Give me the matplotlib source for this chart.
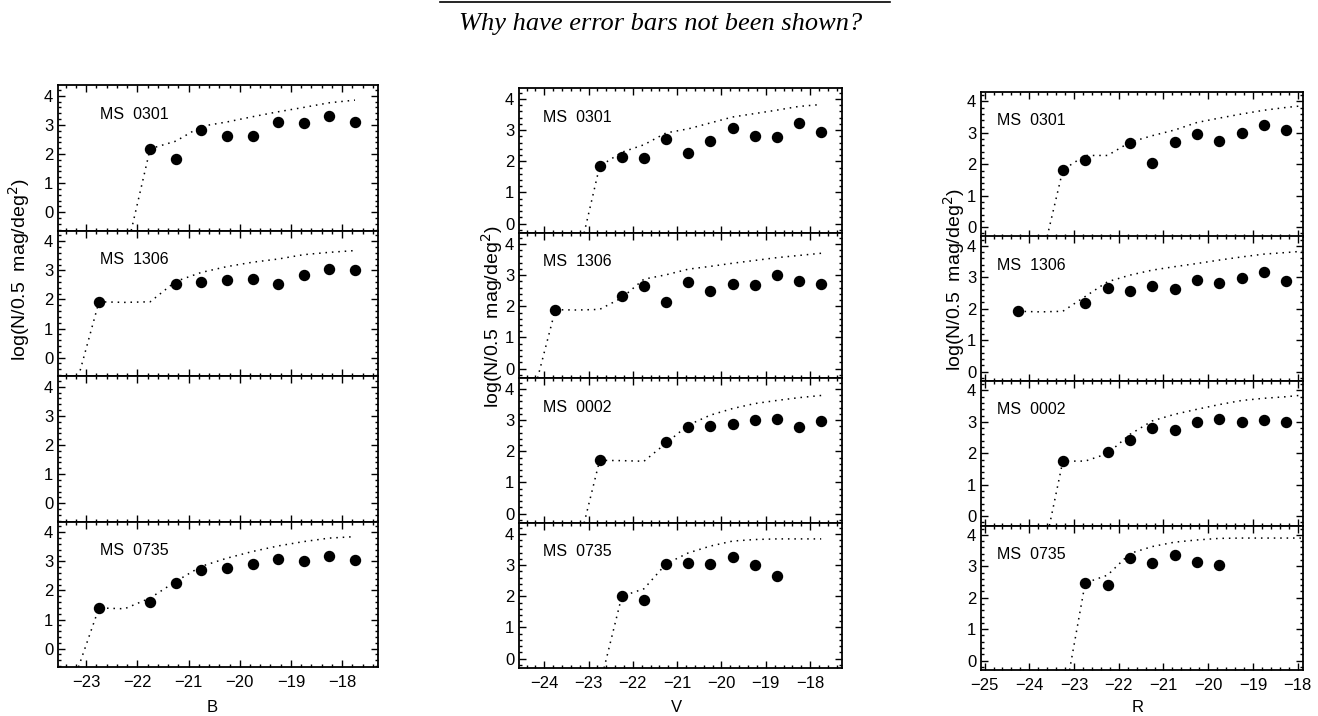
import matplotlib
matplotlib.use("Agg")
import matplotlib.pyplot as plt
from matplotlib.ticker import MultipleLocator
from matplotlib.lines import Line2D

plt.rcParams['font.family'] = ['Liberation Sans', 'DejaVu Sans']

# ---- B band ----
b_0301_x = [-21.75, -21.25, -20.75, -20.25, -19.75, -19.25, -18.75, -18.25, -17.75]
b_0301_y = [2.18, 1.84, 2.82, 2.63, 2.61, 3.09, 3.05, 3.30, 3.09]
b_0301_mx = [-22.12, -21.75, -21.25, -20.75, -20.25, -19.75, -19.25, -18.75, -18.25, -17.75]
b_0301_my = [-0.63, 2.18, 2.44, 2.95, 3.10, 3.28, 3.45, 3.60, 3.76, 3.85]

b_1306_x = [-22.75, -21.25, -20.75, -20.25, -19.75, -19.25, -18.75, -18.25, -17.75]
b_1306_y = [1.92, 2.53, 2.60, 2.68, 2.72, 2.54, 2.84, 3.03, 3.02]
b_1306_mx = [-23.15, -22.75, -22.25, -21.75, -21.25, -20.75, -20.25, -19.75, -19.25, -18.75, -18.25, -17.75]
b_1306_my = [-0.65, 1.92, 1.90, 1.92, 2.62, 2.93, 3.13, 3.28, 3.39, 3.54, 3.62, 3.68]

b_0735_x = [-22.75, -21.75, -21.25, -20.75, -20.25, -19.75, -19.25, -18.75, -18.25, -17.75]
b_0735_y = [1.40, 1.61, 2.26, 2.69, 2.77, 2.92, 3.08, 3.02, 3.19, 3.05]
b_0735_mx = [-23.15, -22.75, -22.25, -21.75, -21.25, -20.75, -20.25, -19.75, -19.25, -18.75, -18.25, -17.75]
b_0735_my = [-0.63, 1.40, 1.37, 1.74, 2.31, 2.83, 3.11, 3.34, 3.53, 3.68, 3.80, 3.85]

# ---- V band ----
v_0301_x = [-22.75, -22.25, -21.75, -21.25, -20.75, -20.25, -19.75, -19.25, -18.75, -18.25, -17.75]
v_0301_y = [1.84, 2.13, 2.11, 2.70, 2.25, 2.64, 3.07, 2.80, 2.78, 3.23, 2.94]
v_0301_mx = [-23.1, -22.75, -22.25, -21.75, -21.25, -20.75, -20.25, -19.75, -19.25, -18.75, -18.25, -17.75]
v_0301_my = [-0.3, 1.84, 2.29, 2.53, 2.91, 3.04, 3.23, 3.42, 3.53, 3.64, 3.76, 3.82]

v_1306_x = [-23.75, -22.25, -21.75, -21.25, -20.75, -20.25, -19.75, -19.25, -18.75, -18.25, -17.75]
v_1306_y = [1.89, 2.34, 2.66, 2.13, 2.77, 2.50, 2.72, 2.67, 3.01, 2.80, 2.71]
v_1306_mx = [-24.15, -23.75, -23.25, -22.75, -22.25, -21.75, -21.25, -20.75, -20.25, -19.75,
             -19.25, -18.75, -18.25, -17.75]
v_1306_my = [-0.3, 1.89, 1.88, 1.90, 2.27, 2.87, 3.01, 3.19, 3.28, 3.38, 3.47, 3.56, 3.63, 3.70]

v_0002_x = [-22.75, -21.25, -20.75, -20.25, -19.75, -19.25, -18.75, -18.25, -17.75]
v_0002_y = [1.71, 2.29, 2.77, 2.82, 2.89, 3.00, 3.05, 2.77, 2.98]
v_0002_mx = [-23.1, -22.75, -22.25, -21.75, -21.25, -20.75, -20.25, -19.75, -19.25, -18.75, -18.25, -17.75]
v_0002_my = [-0.3, 1.71, 1.70, 1.68, 2.26, 2.84, 3.16, 3.37, 3.53, 3.63, 3.72, 3.79]

v_0735_x = [-22.25, -21.75, -21.25, -20.75, -20.25, -19.75, -19.25, -18.75]
v_0735_y = [2.00, 1.87, 3.04, 3.07, 3.03, 3.26, 3.00, 2.65]
v_0735_mx = [-22.65, -22.25, -21.75, -21.25, -20.75, -20.25, -19.75, -19.25, -18.75, -18.25, -17.75]
v_0735_my = [-0.3, 2.00, 2.24, 3.04, 3.39, 3.61, 3.77, 3.82, 3.84, 3.84, 3.84]

# ---- R band ----
r_0301_x = [-23.25, -22.75, -21.75, -21.25, -20.75, -20.25, -19.75, -19.25, -18.75, -18.25]
r_0301_y = [1.82, 2.12, 2.67, 2.03, 2.70, 2.96, 2.73, 2.98, 3.26, 3.09]
r_0301_mx = [-23.6, -23.25, -22.75, -22.25, -21.75, -21.25, -20.75, -20.25, -19.75, -19.25,
             -18.75, -18.25, -17.9]
r_0301_my = [-0.3, 1.82, 2.28, 2.28, 2.70, 2.91, 3.09, 3.33, 3.47, 3.60, 3.72, 3.81, 3.86]

r_1306_x = [-24.25, -22.75, -22.25, -21.75, -21.25, -20.75, -20.25, -19.75, -19.25, -18.75, -18.25]
r_1306_y = [1.92, 2.18, 2.67, 2.55, 2.71, 2.62, 2.92, 2.81, 2.99, 3.18, 2.89]
r_1306_mx = [-24.25, -23.75, -23.25, -22.75, -22.25, -21.75, -21.25, -20.75, -20.25, -19.75,
             -19.25, -18.75, -18.25, -17.9]
r_1306_my = [1.92, 1.90, 1.92, 2.39, 2.86, 3.07, 3.23, 3.34, 3.44, 3.55, 3.65, 3.74, 3.79, 3.83]

r_0002_x = [-23.25, -22.25, -21.75, -21.25, -20.75, -20.25, -19.75, -19.25, -18.75, -18.25]
r_0002_y = [1.75, 2.04, 2.43, 2.80, 2.74, 3.00, 3.10, 3.00, 3.06, 2.98]
r_0002_mx = [-23.55, -23.25, -22.75, -22.25, -21.75, -21.25, -20.75, -20.25, -19.75, -19.25,
             -18.75, -18.25, -17.9]
r_0002_my = [-0.3, 1.75, 1.75, 1.99, 2.60, 3.03, 3.24, 3.40, 3.55, 3.68, 3.75, 3.80, 3.85]

r_0735_x = [-22.75, -22.25, -21.75, -21.25, -20.75, -20.25, -19.75]
r_0735_y = [2.47, 2.42, 3.27, 3.11, 3.36, 3.13, 3.04]
r_0735_mx = [-23.1, -22.75, -22.25, -21.75, -21.25, -20.75, -20.25, -19.75, -19.25, -18.75, -18.25, -17.9]
r_0735_my = [-0.3, 2.47, 2.72, 3.41, 3.63, 3.77, 3.84, 3.89, 3.90, 3.90, 3.90, 3.90]

# panel contents per column (None = empty panel)
b_panels = [("MS 0301", b_0301_x, b_0301_y, b_0301_mx, b_0301_my),
            ("MS 1306", b_1306_x, b_1306_y, b_1306_mx, b_1306_my),
            None,
            ("MS 0735", b_0735_x, b_0735_y, b_0735_mx, b_0735_my)]
v_panels = [("MS 0301", v_0301_x, v_0301_y, v_0301_mx, v_0301_my),
            ("MS 1306", v_1306_x, v_1306_y, v_1306_mx, v_1306_my),
            ("MS 0002", v_0002_x, v_0002_y, v_0002_mx, v_0002_my),
            ("MS 0735", v_0735_x, v_0735_y, v_0735_mx, v_0735_my)]
r_panels = [("MS 0301", r_0301_x, r_0301_y, r_0301_mx, r_0301_my),
            ("MS 1306", r_1306_x, r_1306_y, r_1306_mx, r_1306_my),
            ("MS 0002", r_0002_x, r_0002_y, r_0002_mx, r_0002_my),
            ("MS 0735", r_0735_x, r_0735_y, r_0735_mx, r_0735_my)]

W, H = 1318, 716
fig = plt.figure(figsize=(W / 100, H / 100), dpi=100)

# column layout in pixels: left, right, top, bottom
columns = [
    dict(panels=b_panels, band="B", box=(58, 378, 85, 667), xlim=(-23.55, -17.3), ylim=(-0.63, 4.37),
         xt=[-23, -22, -21, -20, -19, -18], lab_x=0.13, ylab=(19, 270), xlab=(212, 707)),
    dict(panels=v_panels, band="V", box=(519, 842, 88, 668), xlim=(-24.57, -17.28), ylim=(-0.3, 4.35),
         xt=[-24, -23, -22, -21, -20, -19, -18], lab_x=0.075, ylab=(492, 317), xlab=(676, 707)),
    dict(panels=r_panels, band="R", box=(981, 1303, 92, 670), xlim=(-25.08, -17.88), ylim=(-0.3, 4.3),
         xt=[-25, -24, -23, -22, -21, -20, -19, -18], lab_x=0.05, ylab=(954, 280), xlab=(1138, 708)),
]

ylabel = "log(N/0.5  mag/deg$^2$)"

for col in columns:
    left, right, top, bottom = col["box"]
    ph = (bottom - top) / 4
    for i, panel in enumerate(col["panels"]):
        y_top = top + i * ph
        rect = [left / W, 1 - (y_top + ph) / H, (right - left) / W, ph / H]
        ax = fig.add_axes(rect)
        ax.set_xlim(*col["xlim"])
        ax.set_ylim(*col["ylim"])
        ax.xaxis.set_major_locator(MultipleLocator(1))
        ax.xaxis.set_minor_locator(MultipleLocator(0.2))
        ax.yaxis.set_major_locator(MultipleLocator(1))
        ax.yaxis.set_minor_locator(MultipleLocator(0.2))
        ax.set_yticks([0, 1, 2, 3, 4])
        ax.tick_params(which="both", direction="in", top=True, right=True, width=1)
        ax.tick_params(which="major", length=5, labelsize=12)
        ax.tick_params(which="minor", length=2.5)
        for s in ax.spines.values():
            s.set_linewidth(1.3)
        if i < 3:
            ax.tick_params(labelbottom=False)
        else:
            ax.set_xticks(col["xt"])
            ax.xaxis.set_minor_locator(MultipleLocator(0.2))
            ax.tick_params(axis="x", pad=6)
        if panel is None:
            continue
        name, px, py, mx, my = panel
        ax.plot(mx, my, color="black", lw=1.1, linestyle=(0, (1, 3.2)), clip_on=True)
        ax.plot(px, py, "o", color="black", ms=7.2, clip_on=False)
        ax.text(col["lab_x"], 0.8, name.replace(" ", "  "), transform=ax.transAxes,
                fontsize=11.5, va="center", ha="left")
    fig.text(col["ylab"][0] / W, 1 - col["ylab"][1] / H, ylabel, rotation=90,
             ha="center", va="center", fontsize=14)
    fig.text(col["xlab"][0] / W, 1 - col["xlab"][1] / H, col["band"],
             ha="center", va="center", fontsize=12)

# handwritten note and rule at the top
fig.add_artist(Line2D([440 / W, 890 / W], [1 - 2 / H, 1 - 2 / H], color="black", lw=1.2))
fig.text(661 / W, 1 - 24 / H, "Why have error bars not been shown?", ha="center", va="center",
         fontsize=19, family="Liberation Serif", style="italic")

fig.savefig("out.png", dpi=100)
